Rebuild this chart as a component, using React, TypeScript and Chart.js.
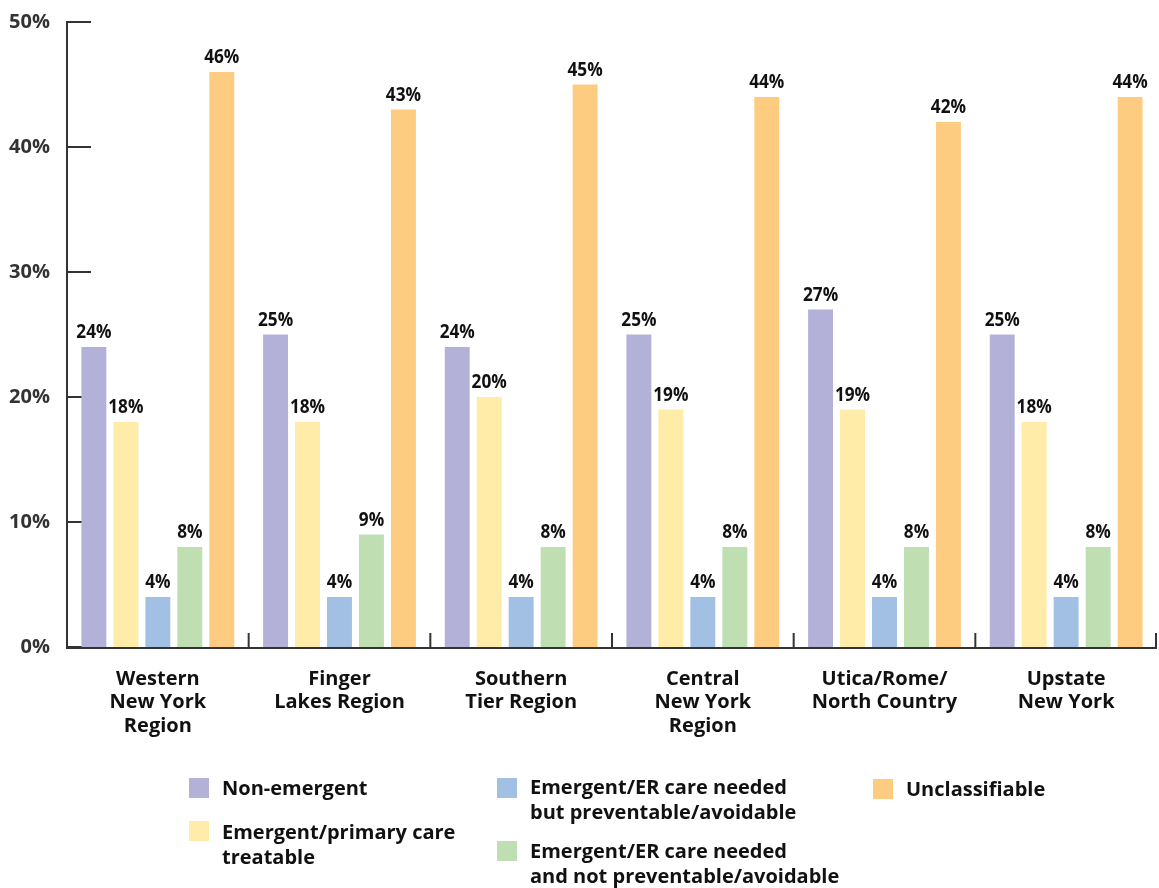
import React, { useEffect, useRef } from "react";
import { Chart, registerables } from "chart.js";

Chart.register(...registerables);

const categories: string[][] = [
  ["Western", "New York", "Region"],
  ["Finger", "Lakes Region"],
  ["Southern", "Tier Region"],
  ["Central", "New York", "Region"],
  ["Utica/Rome/", "North Country"],
  ["Upstate", "New York"],
];

const seriesNames = [
  "Non-emergent",
  "Emergent/primary care treatable",
  "Emergent/ER care needed but preventable/avoidable",
  "Emergent/ER care needed and not preventable/avoidable",
  "Unclassifiable",
];

const nonEmergent = [24, 25, 24, 25, 27, 25];
const primaryCareTreatable = [18, 18, 20, 19, 19, 18];
const erPreventable = [4, 4, 4, 4, 4, 4];
const erNotPreventable = [8, 9, 8, 8, 8, 8];
const unclassifiable = [46, 43, 45, 44, 42, 44];

const colors = ["#b3b1d7", "#feeca8", "#a2c0e3", "#bfdfb3", "#fdcc80"];

const yTicks = [0, 10, 20, 30, 40, 50];

const FONT = "'Open Sans', 'Noto Sans', sans-serif";
const SHIFT = 7;

const axesPlugin = {
  id: "customAxes",
  beforeDatasetsDraw(chart: any) {
    const { ctx, chartArea, scales } = chart;
    const y = scales.y;
    ctx.save();
    ctx.strokeStyle = "#333";
    ctx.lineWidth = 2;
    ctx.beginPath();
    ctx.moveTo(chartArea.left, y.getPixelForValue(50) - 1);
    ctx.lineTo(chartArea.left, chartArea.bottom + 1);
    ctx.lineTo(chartArea.right, chartArea.bottom + 1);
    ctx.stroke();
    yTicks.forEach((t) => {
      const py = y.getPixelForValue(t);
      ctx.beginPath();
      ctx.moveTo(chartArea.left, py);
      ctx.lineTo(chartArea.left + 24, py);
      ctx.stroke();
    });
    const n = categories.length;
    const w = (chartArea.right - chartArea.left) / n;
    for (let i = 1; i <= n; i++) {
      const px = chartArea.left + i * w - (i === n ? 1 : 0);
      ctx.beginPath();
      ctx.moveTo(px, chartArea.bottom + 1);
      ctx.lineTo(px, chartArea.bottom - 14);
      ctx.stroke();
    }
    ctx.restore();
  },
};

const labelsPlugin = {
  id: "valueLabels",
  afterDatasetsDraw(chart: any) {
    const { ctx } = chart;
    ctx.save();
    ctx.font = `bold 20px ${FONT}`;
    ctx.fillStyle = "#111";
    ctx.textAlign = "center";
    ctx.textBaseline = "alphabetic";
    chart.data.datasets.forEach((ds: any, di: number) => {
      const meta = chart.getDatasetMeta(di);
      meta.data.forEach((el: any, i: number) => {
        ctx.save();
        ctx.translate(el.x, el.y - 9);
        ctx.scale(0.86, 1);
        ctx.fillText(`${ds.data[i]}%`, 0, 0);
        ctx.restore();
      });
    });
    ctx.restore();
  },
};

const legendItems = [
  { color: colors[0], lines: ["Non-emergent"], left: 189, top: 778, textTop: 775 },
  { color: colors[1], lines: ["Emergent/primary care", "treatable"], left: 189, top: 821, textTop: 819 },
  { color: colors[2], lines: ["Emergent/ER care needed", "but preventable/avoidable"], left: 497, top: 778, textTop: 774 },
  { color: colors[3], lines: ["Emergent/ER care needed", "and not preventable/avoidable"], left: 497, top: 841, textTop: 838 },
  { color: colors[4], lines: ["Unclassifiable"], left: 873, top: 779, textTop: 776 },
];

export default function App() {
  const canvasRef = useRef<HTMLCanvasElement | null>(null);

  useEffect(() => {
    if (!canvasRef.current) return;
    const seriesData = [nonEmergent, primaryCareTreatable, erPreventable, erNotPreventable, unclassifiable];
    const chart = new Chart(canvasRef.current, {
      type: "bar",
      data: {
        labels: categories,
        datasets: seriesNames.map((name, i) => ({
          label: name,
          data: seriesData[i],
          backgroundColor: colors[i],
          borderWidth: 0,
          categoryPercentage: 0.88,
          barPercentage: 0.78,
        })),
      },
      options: {
        responsive: false,
        animation: false,
        layout: { padding: { top: 14, right: 2, left: 0, bottom: 0 } },
        plugins: { legend: { display: false }, tooltip: { enabled: false } },
        scales: {
          y: {
            min: 0,
            max: 50,
            ticks: {
              stepSize: 10,
              callback: (v: any) => `${v}%`,
              font: { family: FONT, size: 20, weight: "bold" },
              color: "#333",
              padding: 17,
            },
            grid: { display: false, drawTicks: false },
            border: { display: false },
            afterFit: (scale: any) => {
              scale.width = 67;
            },
          },
          x: {
            ticks: {
              font: { family: FONT, size: 20, weight: "bold", lineHeight: 1.18 },
              color: "#111",
              padding: 20,
              maxRotation: 0,
              autoSkip: false,
            },
            grid: { display: false, drawTicks: false },
            border: { display: false },
            afterFit: (scale: any) => {
              scale.height = 888 - 647;
            },
          },
        },
      },
      plugins: [axesPlugin, labelsPlugin],
    });
    return () => chart.destroy();
  }, []);

  return (
    <div style={{ position: "fixed", left: 0, top: 0, width: 1159, height: 888, background: "#fff", overflow: "hidden" }}>
      <canvas
        ref={canvasRef}
        width={1159}
        height={888 + SHIFT}
        style={{ position: "absolute", left: 0, top: -SHIFT, width: 1159, height: 888 + SHIFT }}
      />
      {legendItems.map((it, i) => (
        <React.Fragment key={i}>
          <div style={{ position: "absolute", left: it.left, top: it.top, width: 20, height: 20, background: it.color }} />
          <div
            style={{
              position: "absolute",
              left: it.left + 33,
              top: it.textTop,
              fontFamily: FONT,
              fontWeight: 700,
              fontSize: 20,
              lineHeight: "25px",
              color: "#111",
              whiteSpace: "nowrap",
            }}
          >
            {it.lines.map((l, j) => (
              <div key={j}>{l}</div>
            ))}
          </div>
        </React.Fragment>
      ))}
    </div>
  );
}
